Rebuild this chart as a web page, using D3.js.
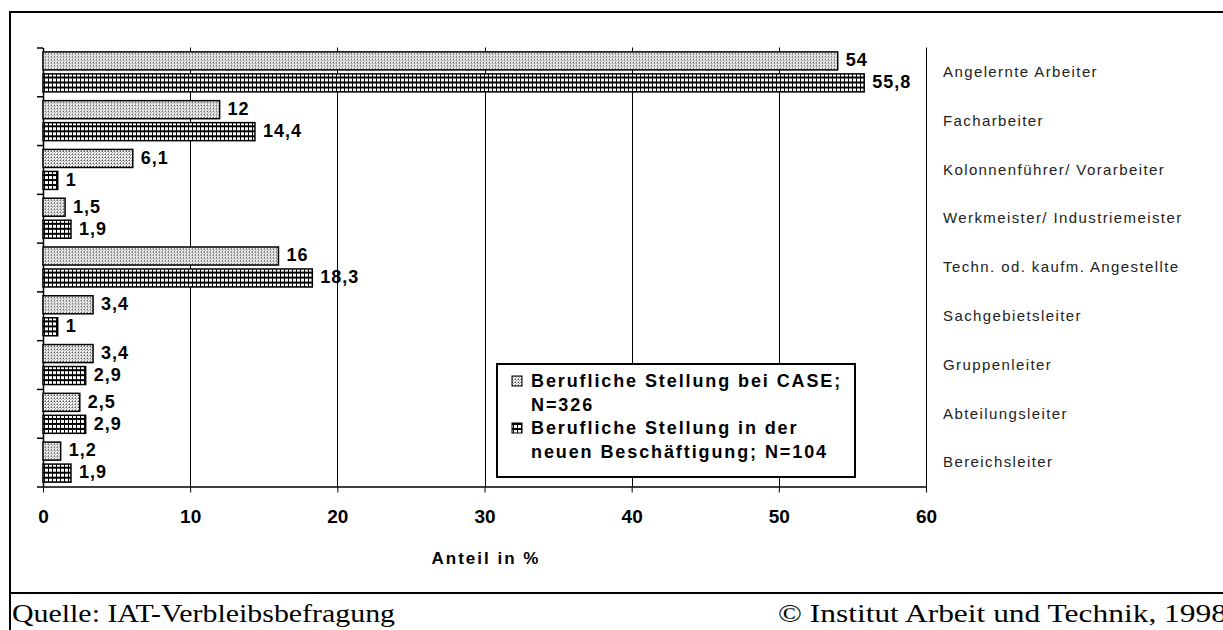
<!DOCTYPE html>
<html>
<head>
<meta charset="utf-8">
<script src="https://cdn.jsdelivr.net/npm/d3@7"></script>
<style>
  body { margin: 0; background: #fff; }
  svg { display: block; }
</style>
</head>
<body>
<div id="chart"></div>
<script>
// Data
const categories = ["Angelernte Arbeiter", "Facharbeiter", "Kolonnenführer/ Vorarbeiter",
    "Werkmeister/ Industriemeister", "Techn. od. kaufm. Angestellte", "Sachgebietsleiter",
    "Gruppenleiter", "Abteilungsleiter", "Bereichsleiter"];
const seriesNames = ["Berufliche Stellung bei CASE; N=326",
    "Berufliche Stellung in der neuen Beschäftigung; N=104"];
const caseValues = [54, 12, 6.1, 1.5, 16, 3.4, 3.4, 2.5, 1.2];
const newValues = [55.8, 14.4, 1, 1.9, 18.3, 1, 2.9, 2.9, 1.9];
const xTicks = [0, 10, 20, 30, 40, 50, 60];

const W = 1223, H = 630;
const plotLeft = 43, plotRight = 926, plotTop = 47.5, plotBottom = 486.5;
const sans = "Liberation Sans, Arial, sans-serif";

const svg = d3.select("#chart").append("svg")
    .attr("width", W).attr("height", H);

// patterns
const defs = svg.append("defs");
const p1 = defs.append("pattern").attr("id", "pat-case")
    .attr("patternUnits", "userSpaceOnUse").attr("width", 3).attr("height", 3);
p1.append("rect").attr("width", 3).attr("height", 3).attr("fill", "#fff");
p1.append("rect").attr("width", 1).attr("height", 1).attr("fill", "#555");
p1.append("rect").attr("x", 1).attr("y", 1).attr("width", 1).attr("height", 1).attr("fill", "#999");
p1.append("rect").attr("x", 2).attr("y", 0).attr("width", 1).attr("height", 1).attr("fill", "#999");
p1.append("rect").attr("x", 0).attr("y", 2).attr("width", 1).attr("height", 1).attr("fill", "#999");

const p2 = defs.append("pattern").attr("id", "pat-new")
    .attr("patternUnits", "userSpaceOnUse").attr("width", 4).attr("height", 5);
p2.append("rect").attr("width", 4).attr("height", 5).attr("fill", "#000");
p2.append("rect").attr("x", 1).attr("y", 1).attr("width", 3).attr("height", 3).attr("fill", "#fff");

const fills = ["url(#pat-case)", "url(#pat-new)"];

// frame
svg.append("line").attr("x1", 9).attr("x2", W).attr("y1", 12).attr("y2", 12)
    .attr("stroke", "#000").attr("stroke-width", 2);
svg.append("line").attr("x1", 10).attr("x2", 10).attr("y1", 11).attr("y2", H)
    .attr("stroke", "#000").attr("stroke-width", 2);
svg.append("line").attr("x1", 9).attr("x2", W).attr("y1", 593).attr("y2", 593)
    .attr("stroke", "#000").attr("stroke-width", 2);

// scales
const x = d3.scaleLinear().domain([0, 60]).range([plotLeft, plotRight]);
const y = d3.scaleBand().domain(categories).range([plotTop, plotBottom]);
const ySub = d3.scaleBand().domain([0, 1]).range([0, y.bandwidth()])
    .paddingInner(0.18).paddingOuter(0.2);
const yTick = d3.scaleLinear().domain([0, categories.length]).range([plotBottom, plotTop]);

// gridlines
svg.append("g")
    .selectAll("line").data(xTicks.slice(1)).join("line")
    .attr("x1", d => Math.round(x(d)) + 0.5).attr("x2", d => Math.round(x(d)) + 0.5)
    .attr("y1", plotTop).attr("y2", plotBottom)
    .attr("stroke", "#000").attr("stroke-width", 1);

// x axis
const xAxis = svg.append("g")
    .attr("transform", `translate(0,${plotBottom})`)
    .call(d3.axisBottom(x).tickValues(xTicks).tickSize(6).tickSizeOuter(0).tickPadding(17));
xAxis.select(".domain").attr("stroke-width", 1.5);
xAxis.selectAll("text").attr("font-family", sans)
    .attr("font-size", 19).attr("font-weight", "bold").attr("fill", "#000");

// left axis with category boundary ticks
const yAxis = svg.append("g")
    .attr("transform", `translate(${plotLeft},0)`)
    .call(d3.axisLeft(yTick).ticks(categories.length).tickFormat("").tickSize(6).tickSizeOuter(0));
yAxis.select(".domain").attr("stroke-width", 1.5);
yAxis.selectAll(".tick line").attr("stroke-width", 1.5);

// bars
const rows = categories.map((c, i) => ({ cat: c, vals: [caseValues[i], newValues[i]] }));
const groups = svg.append("g").selectAll("g").data(rows).join("g")
    .attr("transform", d => `translate(0,${y(d.cat)})`);

groups.selectAll("rect").data(d => d.vals).join("rect")
    .attr("x", x(0))
    .attr("y", (d, i) => ySub(i))
    .attr("width", d => x(d) - x(0))
    .attr("height", ySub.bandwidth())
    .attr("fill", (d, i) => fills[i])
    .attr("stroke", "#000").attr("stroke-width", 1.5);

groups.selectAll("text").data(d => d.vals).join("text")
    .attr("x", d => x(d) + 8)
    .attr("y", (d, i) => ySub(i) + ySub.bandwidth() / 2 - 1)
    .attr("dy", "0.35em")
    .attr("font-family", sans)
    .attr("font-size", 18).attr("font-weight", "bold").attr("letter-spacing", 1)
    .text(d => String(d).replace(".", ","));

// category labels on the right
svg.append("g").selectAll("text").data(categories).join("text")
    .attr("x", 943)
    .attr("y", d => y(d) + y.bandwidth() / 2)
    .attr("dy", "0.35em")
    .attr("font-family", sans)
    .attr("font-size", 15).attr("letter-spacing", 1.4).attr("fill", "#222")
    .text(d => d);

// axis title
svg.append("text")
    .attr("x", 486).attr("y", 564)
    .attr("text-anchor", "middle")
    .attr("font-family", sans)
    .attr("font-size", 17).attr("font-weight", "bold").attr("letter-spacing", 2)
    .text("Anteil in %");

// legend
const legend = svg.append("g").attr("transform", "translate(497,364)");
legend.append("rect").attr("width", 358).attr("height", 113)
    .attr("fill", "#fff").attr("stroke", "#000").attr("stroke-width", 2);
const legendLines = [["Berufliche Stellung bei CASE;", "N=326"],
    ["Berufliche Stellung in der", "neuen Beschäftigung; N=104"]];
legendLines.forEach((lines, i) => {
    const y0 = 17 + i * 47;
    legend.append("rect").attr("x", 15).attr("y", y0 - 5).attr("width", 10).attr("height", 10)
        .attr("fill", fills[i]).attr("stroke", "#000").attr("stroke-width", 1);
    lines.forEach((t, j) => {
        legend.append("text")
            .attr("x", 34).attr("y", y0 + j * 24)
            .attr("dy", "0.35em")
            .attr("font-family", sans)
            .attr("font-size", 18).attr("font-weight", "bold").attr("letter-spacing", 1.9)
            .text(t);
    });
});

// footer
svg.append("text").attr("x", 12).attr("y", 622)
    .attr("font-family", "Liberation Serif, Times New Roman, serif")
    .attr("font-size", 26)
    .attr("textLength", 383).attr("lengthAdjust", "spacingAndGlyphs")
    .text("Quelle: IAT-Verbleibsbefragung");
svg.append("text").attr("x", 778).attr("y", 622)
    .attr("font-family", "Liberation Serif, Times New Roman, serif")
    .attr("font-size", 26)
    .attr("textLength", 449).attr("lengthAdjust", "spacingAndGlyphs")
    .text("© Institut Arbeit und Technik, 1998");
</script>
</body>
</html>
